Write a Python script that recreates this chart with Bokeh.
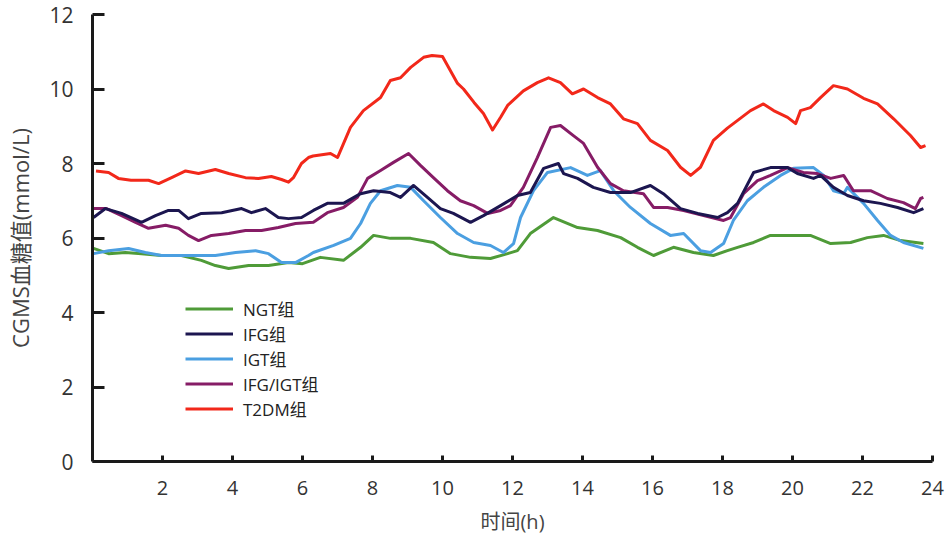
from bokeh.plotting import figure
from bokeh.models import Range1d, FixedTicker, Legend, LegendItem
from bokeh.embed import file_html
from bokeh.resources import INLINE

# ---- data ----
ngt_x = [0.03, 0.46, 0.94, 1.4, 1.97, 2.54, 3.11, 3.51, 3.89, 4.46, 5.03, 5.6, 6.0, 6.51, 7.17, 7.66,
         8.03, 8.51, 9.09, 9.74, 10.23, 10.8, 11.37, 11.86, 12.14, 12.51, 13.17, 13.86, 14.43, 15.09,
         15.57, 16.03, 16.6, 17.17, 17.74, 18.14, 18.43, 18.89, 19.37, 19.94, 20.51, 21.09, 21.66,
         22.14, 22.6, 23.09, 23.74]
ngt_y = [5.72, 5.58, 5.61, 5.58, 5.53, 5.53, 5.4, 5.26, 5.18, 5.26, 5.26, 5.34, 5.31, 5.48, 5.4, 5.75,
         6.07, 5.99, 5.99, 5.88, 5.58, 5.48, 5.45, 5.58, 5.66, 6.12, 6.55, 6.28, 6.2, 6.01,
         5.75, 5.53, 5.75, 5.61, 5.53, 5.66, 5.75, 5.88, 6.07, 6.07, 6.07, 5.85, 5.88,
         6.01, 6.07, 5.93, 5.85]

ifg_x = [0.03, 0.37, 0.83, 1.40, 1.80, 2.17, 2.46, 2.74, 3.11, 3.69, 4.26, 4.54, 4.94, 5.31, 5.6, 5.97,
         6.31, 6.71, 7.17, 7.66, 8.03, 8.51, 8.8, 9.17, 9.57, 9.94, 10.31, 10.8, 11.17, 11.66, 12.14,
         12.51, 12.89, 13.31, 13.46, 13.86, 14.31, 14.8, 15.37, 15.94, 16.31, 16.8, 17.29, 17.86,
         18.14, 18.43, 18.89, 19.37, 19.86, 20.14, 20.6, 20.8, 21.17, 21.57, 22.03, 22.51, 23.0,
         23.46, 23.74]
ifg_y = [6.55, 6.79, 6.66, 6.42, 6.6, 6.74, 6.74, 6.52, 6.66, 6.68, 6.79, 6.68, 6.79, 6.55, 6.52, 6.55,
         6.74, 6.93, 6.93, 7.19, 7.27, 7.22, 7.09, 7.41, 7.09, 6.79, 6.66, 6.42, 6.6, 6.87, 7.14,
         7.22, 7.87, 8.0, 7.73, 7.6, 7.36, 7.22, 7.22, 7.41, 7.19, 6.79, 6.66, 6.55,
         6.68, 6.93, 7.76, 7.89, 7.89, 7.73, 7.6, 7.68, 7.36, 7.14, 7.0, 6.93, 6.82,
         6.68, 6.79]

igt_x = [0.03, 0.46, 1.03, 1.51, 1.97, 2.54, 3.03, 3.51, 4.09, 4.66, 5.03, 5.4, 5.8, 6.17, 6.31, 6.89,
         7.37, 7.66, 7.94, 8.23, 8.71, 9.09, 9.46, 9.94, 10.43, 10.89, 11.37, 11.74, 12.03, 12.23,
         12.6, 13.0, 13.66, 14.14, 14.51, 14.89, 15.37, 15.94, 16.51, 16.89, 17.37, 17.66, 18.03,
         18.31, 18.71, 19.17, 19.66, 20.03, 20.6, 20.89, 21.17, 21.46, 21.57, 22.03, 22.43, 22.8,
         23.17, 23.74]
igt_y = [5.58, 5.66, 5.72, 5.61, 5.53, 5.53, 5.53, 5.53, 5.61, 5.66, 5.58, 5.34, 5.34, 5.53, 5.61, 5.8,
         5.99, 6.39, 6.93, 7.27, 7.41, 7.36, 7.0, 6.55, 6.12, 5.88, 5.8, 5.61, 5.85, 6.55,
         7.27, 7.76, 7.89, 7.68, 7.81, 7.27, 6.82, 6.39, 6.07, 6.12, 5.66, 5.61, 5.85,
         6.47, 7.0, 7.36, 7.68, 7.87, 7.89, 7.68, 7.27, 7.19, 7.36, 6.93, 6.47, 6.07,
         5.88, 5.72]

ifgigt_x = [0.03, 0.4, 0.83, 1.23, 1.6, 2.09, 2.46, 2.74, 3.03, 3.40, 3.89, 4.37, 4.83, 5.31, 5.8, 6.31,
            6.71, 7.17, 7.57, 7.86, 8.23, 8.6, 9.03, 9.37, 9.74, 10.14, 10.51, 10.89, 11.29, 11.66,
            11.94, 12.31, 12.71, 13.09, 13.37, 13.74, 14.03, 14.43, 14.8, 15.17, 15.74, 16.03, 16.43,
            16.89, 17.46, 18.03, 18.23, 18.6, 19.0, 19.37, 19.86, 20.31, 20.71, 21.09, 21.46, 21.74,
            22.23, 22.71, 23.17, 23.51, 23.66, 23.74]
ifgigt_y = [6.79, 6.79, 6.6, 6.42, 6.26, 6.34, 6.26, 6.07, 5.93, 6.07, 6.12, 6.2, 6.2, 6.28, 6.39, 6.42,
            6.68, 6.82, 7.09, 7.6, 7.81, 8.03, 8.27, 7.95, 7.62, 7.27, 7.0, 6.87, 6.66, 6.74,
            6.87, 7.36, 8.16, 8.97, 9.02, 8.75, 8.54, 7.9, 7.46, 7.27, 7.19, 6.82, 6.82,
            6.74, 6.6, 6.47, 6.55, 7.19, 7.54, 7.68, 7.89, 7.76, 7.73, 7.6, 7.68, 7.27,
            7.27, 7.06, 6.95, 6.79, 7.06, 7.09]

t2dm_x = [0.1, 0.46, 0.74, 1.1, 1.6, 1.89, 2.26, 2.66, 3.03, 3.51, 3.89, 4.37, 4.74, 5.11, 5.4, 5.6,
          5.74, 5.97, 6.17, 6.3, 6.8, 7.0, 7.37, 7.74, 8.23, 8.51, 8.8, 9.09, 9.46, 9.7, 10.0, 10.43,
          10.6, 10.9, 11.17, 11.43, 11.66, 11.86, 12.31, 12.71, 13.03, 13.37, 13.71, 14.03, 14.43,
          14.8, 15.17, 15.57, 15.94, 16.43, 16.8, 17.09, 17.37, 17.74, 18.14, 18.31, 18.8, 19.17,
          19.46, 19.86, 20.09, 20.23, 20.51, 20.8, 21.17, 21.57, 22.03, 22.43, 22.89, 23.37, 23.66,
          23.8]
t2dm_y = [7.8, 7.76, 7.6, 7.55, 7.55, 7.46, 7.62, 7.8, 7.73, 7.84, 7.73, 7.62, 7.6, 7.65, 7.57, 7.5,
          7.62, 8.0, 8.16, 8.2, 8.27, 8.16, 8.97, 9.42, 9.77, 10.23, 10.3, 10.58, 10.85, 10.9, 10.87,
          10.15, 10.0, 9.64, 9.34, 8.9, 9.24, 9.56, 9.95, 10.17, 10.3, 10.17, 9.87, 10.0, 9.77,
          9.6, 9.2, 9.07, 8.62, 8.35, 7.9, 7.68, 7.9, 8.62, 8.95, 9.07, 9.42, 9.6,
          9.42, 9.24, 9.07, 9.42, 9.5, 9.77, 10.09, 10.0, 9.75, 9.6, 9.2, 8.75, 8.43,
          8.48]

x_ticks = [2, 4, 6, 8, 10, 12, 14, 16, 18, 20, 22, 24]
y_ticks = [0, 2, 4, 6, 8, 10, 12]

labels = ["NGT组", "IFG组", "IGT组", "IFG/IGT组", "T2DM组"]
colors = ["#4f9b38", "#1c1650", "#4b9fe1", "#861c66", "#f2281a"]

NUM_FONT = "Open Sans"
CJK_FONT = "Open Sans, Noto Sans CJK SC"

p = figure(width=950, height=537, output_backend="svg", toolbar_location=None,
           x_range=Range1d(0, 24), y_range=Range1d(0, 12),
           min_border_left=92, min_border_right=18, min_border_top=14, min_border_bottom=76)
p.outline_line_color = None
p.xgrid.visible = False
p.ygrid.visible = False
p.background_fill_color = "white"
p.border_fill_color = "white"

series = [(ngt_x, ngt_y), (ifg_x, ifg_y), (igt_x, igt_y), (ifgigt_x, ifgigt_y), (t2dm_x, t2dm_y)]
renderers = {}
for idx in [0, 2, 3, 1, 4]:
    xs, ys = series[idx]
    renderers[idx] = p.line(xs, ys, line_color=colors[idx], line_width=3, line_join="round")

legend = Legend(items=[LegendItem(label=labels[i], renderers=[renderers[i]]) for i in range(5)],
                location=(93, 40))
legend.label_text_font = CJK_FONT
legend.label_text_font_size = "17px"
legend.label_text_color = "#222222"
legend.glyph_width = 48
legend.glyph_height = 23
legend.label_height = 23
legend.spacing = 0
legend.padding = 0
legend.margin = 0
legend.label_standoff = 10
legend.background_fill_alpha = 0
legend.border_line_color = None
p.add_layout(legend)

for ax in (p.xaxis[0], p.yaxis[0]):
    ax.axis_line_width = 3
    ax.axis_line_color = "#1a1a1a"
    ax.major_tick_line_width = 3
    ax.major_tick_line_color = "#1a1a1a"
    ax.major_tick_out = 0
    ax.minor_tick_in = 0
    ax.minor_tick_out = 0
    ax.major_label_text_font = NUM_FONT
    ax.major_label_text_font_size = "21px"
    ax.major_label_text_color = "#333333"
    ax.axis_label_text_font = CJK_FONT
    ax.axis_label_text_font_style = "normal"
    ax.axis_label_text_color = "#444444"

p.xaxis[0].ticker = FixedTicker(ticks=x_ticks)
p.yaxis[0].ticker = FixedTicker(ticks=y_ticks)
p.xaxis[0].major_tick_in = 6
p.yaxis[0].major_tick_in = 12
p.xaxis[0].major_label_standoff = 19
p.yaxis[0].major_label_standoff = 19
p.xaxis[0].major_label_text_font_size = "20px"
p.xaxis[0].axis_label = "时间(h)"
p.xaxis[0].axis_label_text_font_size = "20px"
p.xaxis[0].axis_label_standoff = 10
p.yaxis[0].axis_label = "CGMS血糖值(mmol/L)"
p.yaxis[0].axis_label_text_font_size = "22px"
p.yaxis[0].axis_label_standoff = 11

open("out.html", "w").write(file_html(p, INLINE))
